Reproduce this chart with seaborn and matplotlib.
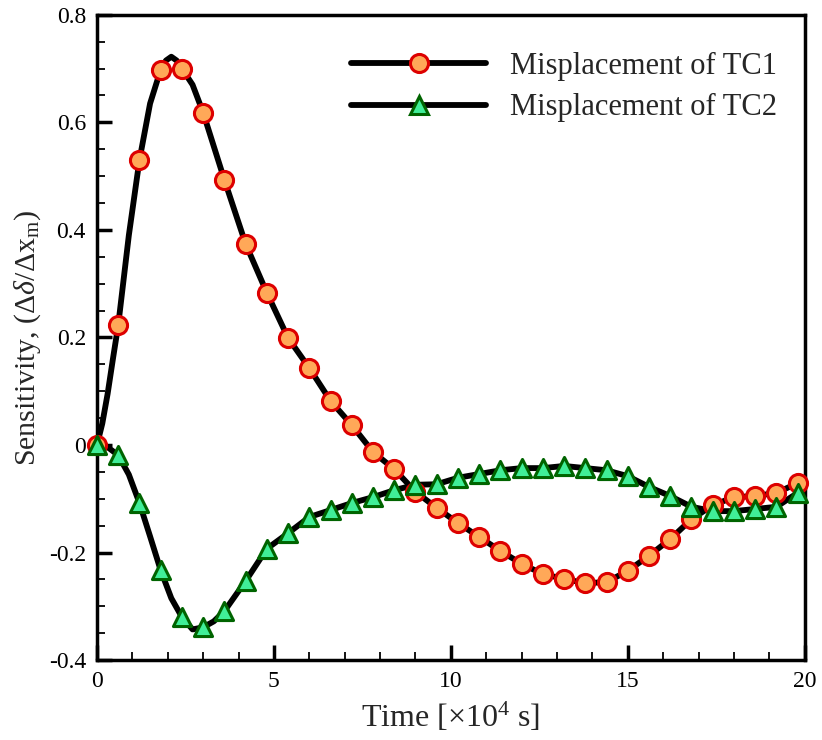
import matplotlib
matplotlib.use("Agg")
import matplotlib.pyplot as plt
import seaborn as sns
import numpy as np
import pandas as pd
from matplotlib.lines import Line2D
from matplotlib.ticker import MultipleLocator

# ---- data ----
marker_x = [0.0, 0.6, 1.2, 1.8, 2.4, 3.0, 3.6, 4.2, 4.8, 5.4, 6.0, 6.6, 7.2, 7.8, 8.4, 9.0, 9.6,
            10.2, 10.8, 11.4, 12.0, 12.6, 13.2, 13.8, 14.4, 15.0, 15.6, 16.2, 16.8, 17.4, 18.0,
            18.6, 19.2, 19.8]
tc1_y = [0.0, 0.223, 0.53, 0.698, 0.70, 0.618, 0.493, 0.374, 0.283, 0.199, 0.143, 0.082, 0.037,
         -0.013, -0.045, -0.087, -0.117, -0.145, -0.171, -0.197, -0.221, -0.240, -0.249, -0.257,
         -0.255, -0.234, -0.206, -0.175, -0.138, -0.112, -0.097, -0.095, -0.089, -0.071]
tc2_y = [0.0, -0.019, -0.108, -0.233, -0.32, -0.339, -0.309, -0.253, -0.193, -0.164, -0.134,
         -0.121, -0.108, -0.097, -0.084, -0.074, -0.073, -0.061, -0.054, -0.047, -0.043, -0.043,
         -0.039, -0.043, -0.047, -0.058, -0.078, -0.095, -0.115, -0.123, -0.123, -0.119, -0.115,
         -0.089]
# extra curve points (peak / trough / end)
tc1_line_extra_x = [0.15, 0.3, 0.45, 0.9, 1.5, 1.95, 2.1, 2.25, 2.7, 20.0]
tc1_line_extra_y = [0.04, 0.095, 0.16, 0.39, 0.635, 0.715, 0.722, 0.715, 0.67, -0.065]
tc2_line_extra_x = [0.3, 0.9, 1.5, 2.1, 2.7, 3.3, 20.0]
tc2_line_extra_y = [-0.004, -0.055, -0.17, -0.285, -0.343, -0.328, -0.083]

labels = ["Misplacement of TC1", "Misplacement of TC2"]
x_ticks = [0, 5, 10, 15, 20]
y_ticks = [-0.4, -0.2, 0, 0.2, 0.4, 0.6, 0.8]

# ---- style ----
sns.set_style("white")
plt.rcParams["font.family"] = ["Liberation Serif", "DejaVu Serif"]
plt.rcParams["mathtext.fontset"] = "custom"
plt.rcParams["mathtext.rm"] = "Liberation Serif"
plt.rcParams["mathtext.it"] = "Liberation Serif:italic"

fig = plt.figure(figsize=(8.22, 7.4), dpi=100)
ax = fig.add_axes([0.118, 0.108, 0.861, 0.872])

def line_df(mx, my, ex, ey):
    df = pd.DataFrame({"x": list(mx) + list(ex), "y": list(my) + list(ey)})
    return df.sort_values("x")

d1 = line_df(marker_x, tc1_y, tc1_line_extra_x, tc1_line_extra_y)
d2 = line_df(marker_x, tc2_y, tc2_line_extra_x, tc2_line_extra_y)

sns.lineplot(data=d1, x="x", y="y", ax=ax, color="black", lw=4.2, estimator=None, sort=False, zorder=2)
sns.lineplot(data=d2, x="x", y="y", ax=ax, color="black", lw=4.2, estimator=None, sort=False, zorder=2)

m1 = pd.DataFrame({"x": marker_x, "y": tc1_y})
m2 = pd.DataFrame({"x": marker_x, "y": tc2_y})
c1_face, c1_edge = "#FFA858", "#DD0000"
c2_face, c2_edge = "#40EE98", "#006400"
sns.scatterplot(data=m1, x="x", y="y", ax=ax, marker="o", s=170, color=c1_face,
                edgecolor=c1_edge, linewidth=2.2, zorder=3, clip_on=False)
sns.scatterplot(data=m2, x="x", y="y", ax=ax, marker="^", s=170, color=c2_face,
                edgecolor=c2_edge, linewidth=2.2, zorder=4, clip_on=False)

ax.set_xlim(0, 20)
ax.set_ylim(-0.4, 0.8)
ax.set_xticks(x_ticks)
ax.set_yticks(y_ticks)
ax.set_xticklabels([str(t) for t in x_ticks])
ax.set_yticklabels(["-0.4", "-0.2", "0", "0.2", "0.4", "0.6", "0.8"])
ax.xaxis.set_minor_locator(MultipleLocator(1))
ax.yaxis.set_minor_locator(MultipleLocator(0.05))
ax.tick_params(which="major", direction="in", length=11, width=2.5, labelsize=17, pad=8,
               top=False, right=False, bottom=True, left=True, colors="black")
ax.tick_params(which="minor", direction="in", length=6, width=1.3, top=False, right=False,
               bottom=True, left=True, colors="black")
for s in ax.spines.values():
    s.set_linewidth(2.5)
    s.set_color("black")

ax.set_xlabel(r"Time [$\times$10$^{4}$ s]", fontsize=23, labelpad=6)
ax.set_ylabel(r"Sensitivity, ($\Delta\delta$/$\Delta$x$_{\rm m}$)", fontsize=21.5, labelpad=4)

handles = [
    Line2D([], [], color="black", lw=4.2, marker="o", markersize=13, markerfacecolor=c1_face,
           markeredgecolor=c1_edge, markeredgewidth=2.2),
    Line2D([], [], color="black", lw=4.2, marker="^", markersize=13, markerfacecolor=c2_face,
           markeredgecolor=c2_edge, markeredgewidth=2.2),
]
ax.legend(handles, labels, loc="upper right", frameon=False, fontsize=22, handlelength=4.4,
          handletextpad=0.8, labelspacing=0.4, bbox_to_anchor=(1.0, 0.985))

fig.savefig("out.png", dpi=100)
